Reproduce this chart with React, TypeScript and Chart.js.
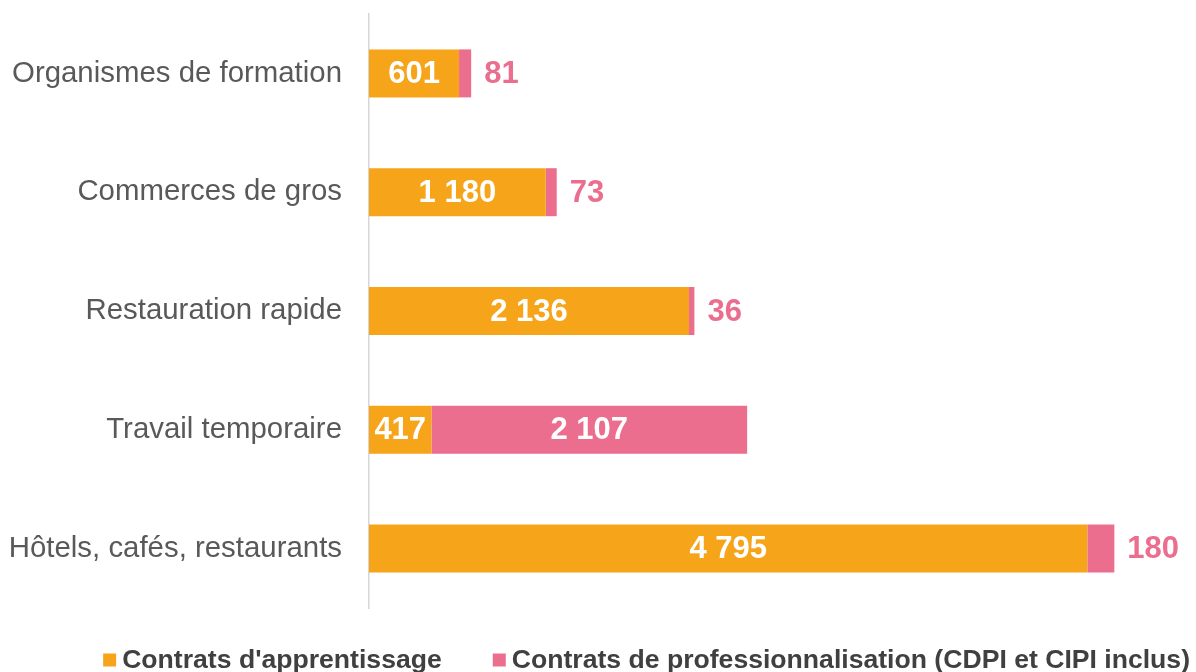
import React, { useEffect, useRef } from "react";
import { Chart, registerables } from "chart.js";

Chart.register(...registerables);

const categories = [
  "Organismes de formation",
  "Commerces de gros",
  "Restauration rapide",
  "Travail temporaire",
  "Hôtels, cafés, restaurants",
];
const apprentissage = [601, 1180, 2136, 417, 4795];
const professionnalisation = [81, 73, 36, 2107, 180];
const seriesNames = [
  "Contrats d'apprentissage",
  "Contrats de professionnalisation (CDPI et CIPI inclus)",
];
const ORANGE = "#F6A51A";
const PINK = "#EC6E8E";
const FONT = '"Liberation Sans", Arial, sans-serif';

const fmt = (v: number) => String(v).replace(/\B(?=(\d{3})+(?!\d))/g, " ");

const labelPlugin = {
  id: "valueLabels",
  afterDatasetsDraw(chart: any) {
    const ctx = chart.ctx;
    ctx.save();
    ctx.font = `bold 31px ${FONT}`;
    ctx.textBaseline = "middle";
    chart.data.datasets.forEach((ds: any, di: number) => {
      const meta = chart.getDatasetMeta(di);
      meta.data.forEach((bar: any, i: number) => {
        const v = ds.data[i];
        const text = fmt(v);
        const { x, y, base } = bar.getProps(["x", "y", "base"], true);
        const left = Math.min(x, base);
        const right = Math.max(x, base);
        const w = ctx.measureText(text).width;
        if (right - left >= w + 6) {
          ctx.fillStyle = "#ffffff";
          ctx.textAlign = "center";
          ctx.fillText(text, (left + right) / 2, y + 1);
        } else {
          ctx.fillStyle = PINK;
          ctx.textAlign = "left";
          ctx.fillText(text, right + 13, y + 1);
        }
      });
    });
    ctx.restore();
  },
};

const legendPlugin = {
  id: "customLegend",
  afterDraw(chart: any) {
    const ctx = chart.ctx;
    ctx.save();
    ctx.font = `bold 26.6px ${FONT}`;
    ctx.textBaseline = "middle";
    ctx.textAlign = "left";
    const box = 13;
    const gapBox = 6;
    const gapItem = 51;
    const widths = chart.data.datasets.map((ds: any) => ctx.measureText(ds.label).width);
    const total =
      widths.reduce((a: number, b: number) => a + b, 0) +
      widths.length * (box + gapBox) +
      (widths.length - 1) * gapItem;
    let x = chart.width - 6 - total;
    const y = chart.height - 11;
    chart.data.datasets.forEach((ds: any, i: number) => {
      ctx.fillStyle = ds.backgroundColor;
      ctx.fillRect(x, y - box / 2 - 1, box, box);
      x += box + gapBox;
      ctx.fillStyle = "#404040";
      ctx.fillText(ds.label, x, y);
      x += widths[i] + gapItem;
    });
    ctx.restore();
  },
};

export default function App() {
  const ref = useRef<HTMLCanvasElement>(null);
  useEffect(() => {
    if (!ref.current) return;
    const chart = new Chart(ref.current, {
      type: "bar",
      data: {
        labels: categories,
        datasets: [
          { label: seriesNames[0], data: apprentissage, backgroundColor: ORANGE, borderWidth: 0 },
          { label: seriesNames[1], data: professionnalisation, backgroundColor: PINK, borderWidth: 0 },
        ],
      },
      options: {
        indexAxis: "y",
        animation: false,
        responsive: true,
        maintainAspectRatio: false,
        layout: { padding: { top: 14, bottom: 64, left: 0, right: 3 } },
        datasets: { bar: { barPercentage: 0.404, categoryPercentage: 1 } },
        plugins: { legend: { display: false }, tooltip: { enabled: false } },
        scales: {
          x: {
            stacked: true,
            display: false,
            min: 0,
            max: 5500,
          },
          y: {
            stacked: true,
            afterFit: (s: any) => {
              s.width = 369;
              s.paddingTop = 0;
              s.paddingBottom = 0;
            },
            grid: { display: false, drawTicks: false },
            border: { display: true, color: "#d6d6d6", width: 1.5 },
            ticks: {
              padding: 27,
              color: "#595959",
              font: { size: 29.4, family: FONT },
            },
          },
        },
      },
      plugins: [labelPlugin, legendPlugin],
    });
    return () => chart.destroy();
  }, []);
  return (
    <div style={{ position: "absolute", left: 0, top: 0, width: 1196, height: 672, background: "#fff" }}>
      <canvas ref={ref} />
    </div>
  );
}
